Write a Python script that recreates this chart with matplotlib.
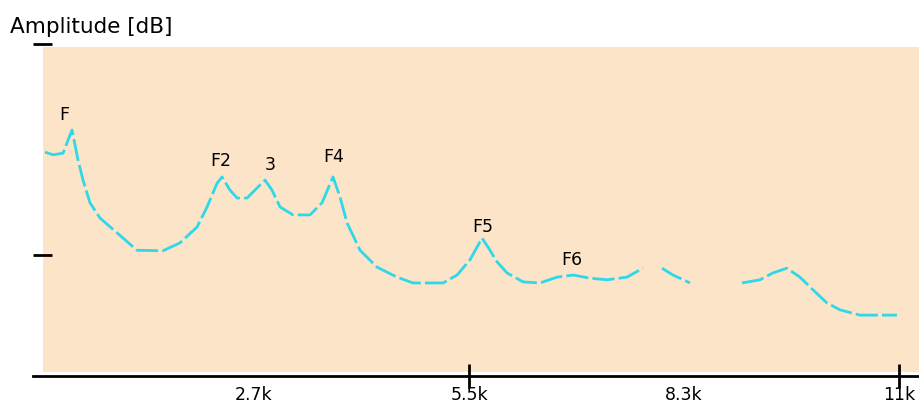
import numpy as np
import matplotlib
matplotlib.use("Agg")
import matplotlib.pyplot as plt
from matplotlib.patches import Rectangle

# ---- data (frequency in Hz, amplitude in dB) ----
freq_hz = [77, 179, 307, 422, 499, 563, 652, 780, 998, 1253, 1586, 1803, 2021,
           2149, 2277, 2341, 2443, 2533, 2661, 2788, 2891, 2980, 3083, 3249,
           3466, 3620, 3760, 3850, 3939, 4106, 4323, 4579, 4784, 5168, 5347,
           5513, 5666, 5743, 5858, 5986, 6190, 6408, 6625, 6830, 7047, 7265,
           7520, 7725, np.nan, 7968, 8109, 8326, np.nan, 8991, 9221, 9387,
           9566, 9732, 9899, 10078, 10244, 10500, 10973]
amp_db = [-20.5, -21.0, -20.7, -16.3, -22.0, -25.8, -30.1, -33.0, -35.8, -39.1,
          -39.2, -37.7, -34.7, -30.9, -26.4, -25.2, -27.7, -29.2, -29.2, -27.3,
          -25.8, -27.7, -30.9, -32.4, -32.4, -30.1, -25.2, -29.0, -33.9, -39.1,
          -42.3, -44.2, -45.3, -45.3, -43.8, -40.9, -36.8, -38.5, -41.3, -43.4,
          -45.1, -45.3, -44.2, -43.8, -44.4, -44.7, -44.2, -42.5, np.nan, -42.5,
          -43.8, -45.3, np.nan, -45.3, -44.7, -43.4, -42.5, -44.2, -46.6, -49.1,
          -50.4, -51.4, -51.4]

formant_labels = ["F", "F2", "3", "F4", "F5", "F6"]
formant_x = [320, 2328, 2955, 3773, 5679, 6817]
formant_y = [-13.5, -22.2, -22.9, -21.4, -34.7, -40.9]

xtick_vals = [2750, 5500, 8250, 11000]
xtick_labels = ["2.7k", "5.5k", "8.3k", "11k"]
xtick_marked = [5500, 11000]
ytick_vals = [0, -40]
title_text = "Amplitude [dB]"

# ---- figure ----
W, H = 919, 403
fig = plt.figure(figsize=(W / 100, H / 100), dpi=100)
fig.patch.set_facecolor("white")
ax = fig.add_axes([33 / W, 1 - 376 / H, (W - 33) / W, (376 - 40) / H])
ax.set_facecolor("white")
ax.set_xlim(-77, 11255)
ax.set_ylim(-62.94, 0.76)

# pale dithered-looking background panel
ax.add_patch(Rectangle((0.0113, 0.012), 1.0, 0.967, transform=ax.transAxes,
                       facecolor="#FCE4C8", edgecolor="none", zorder=0))

ax.plot(freq_hz, amp_db, color="#2ED8E8", lw=2.0, linestyle=(0, (8, 1.5)),
        zorder=3)

for lab, x, y in zip(formant_labels, formant_x, formant_y):
    ax.text(x, y, lab, fontsize=12.5, ha="center", va="center", color="black",
            zorder=4)

for s in ["top", "right", "left"]:
    ax.spines[s].set_visible(False)
ax.spines["bottom"].set_linewidth(2.0)
ax.spines["bottom"].set_color("black")

ax.xaxis.remove_overlapping_locs = False
ax.set_xticks(xtick_vals)
ax.set_xticklabels(xtick_labels, fontsize=12.5)
ax.tick_params(axis="x", which="major", length=0, pad=7)
ax.set_xticks(xtick_marked, minor=True)
ax.tick_params(axis="x", which="minor", direction="inout", length=17,
               width=2, color="black")

ax.set_yticks(ytick_vals)
ax.set_yticklabels([])
ax.tick_params(axis="y", direction="in", length=14, width=2, color="black")

fig.text(10 / W, 1 - 27 / H, title_text, fontsize=15.5, ha="left", va="center")

fig.savefig("out.png", dpi=100)
